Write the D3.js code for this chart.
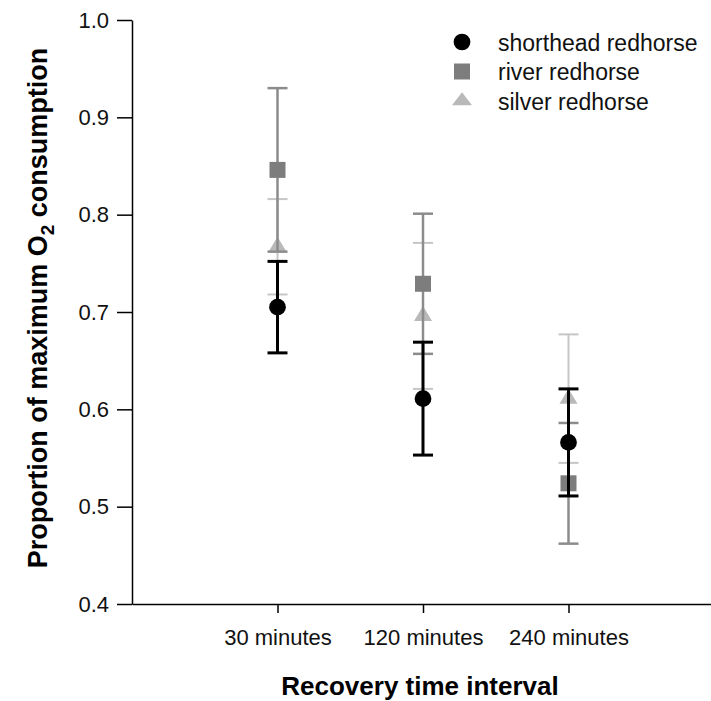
<!DOCTYPE html>
<html>
<head>
<meta charset="utf-8">
<script src="https://cdn.jsdelivr.net/npm/d3@7/dist/d3.min.js"></script>
<style>
  html, body { margin: 0; padding: 0; background: #fff; }
  svg { display: block; font-family: "Liberation Sans", Arial, sans-serif; }
</style>
</head>
<body>
<svg id="chart" width="711" height="701"></svg>
<script>
// Recovery intervals on the x axis
const categories = ["30 minutes", "120 minutes", "240 minutes"];

// Mean proportion of maximum O2 consumption per species, with error half-widths
const shortheadMean = [0.705, 0.611, 0.566];
const shortheadErr  = [0.047, 0.058, 0.055];
const riverMean     = [0.846, 0.729, 0.524];
const riverErr      = [0.084, 0.072, 0.062];
const silverMean    = [0.767, 0.696, 0.611];
const silverErr     = [0.049, 0.075, 0.066];

const yTicks = [0.4, 0.5, 0.6, 0.7, 0.8, 0.9, 1.0];

const series = [
  { name: "silver redhorse",    mean: silverMean,    err: silverErr,    shape: "triangle", fill: "#b9b9b9", bar: "#c6c6c6", bw: 2 },
  { name: "river redhorse",     mean: riverMean,     err: riverErr,     shape: "square",   fill: "#7d7d7d", bar: "#8c8c8c", bw: 2.5 },
  { name: "shorthead redhorse", mean: shortheadMean, err: shortheadErr, shape: "circle",   fill: "#000000", bar: "#000000", bw: 3 }
];

const svg = d3.select("#chart");

const x = d3.scaleLinear().domain([0, 4]).range([132, 714]);
const y = d3.scaleLinear().domain([0.4, 1.0]).range([604, 20]);

// Axes
const yAxis = svg.append("g")
  .attr("transform", "translate(132,0)")
  .call(d3.axisLeft(y).tickValues(yTicks).tickFormat(d3.format(".1f")).tickSize(15).tickSizeOuter(0).tickPadding(8));
const xAxis = svg.append("g")
  .attr("transform", "translate(0,604)")
  .call(d3.axisBottom(x).tickValues([1, 2, 3]).tickFormat(i => categories[i - 1]).tickSize(9).tickSizeOuter(0).tickPadding(16));

[yAxis, xAxis].forEach(g => {
  g.select(".domain").attr("stroke", "#000").attr("stroke-width", 1.5);
  g.selectAll(".tick line").attr("stroke", "#000").attr("stroke-width", 1.5);
  g.selectAll(".tick text").attr("fill", "#111").attr("font-size", 22)
    .attr("font-family", "'Liberation Sans', Arial, sans-serif");
});

// Axis titles
svg.append("text")
  .attr("x", 420).attr("y", 695)
  .attr("text-anchor", "middle")
  .attr("font-size", 26).attr("font-weight", "bold").attr("fill", "#000")
  .text("Recovery time interval");

const yTitle = svg.append("text")
  .attr("transform", "translate(47,308) rotate(-90)")
  .attr("text-anchor", "middle")
  .attr("font-size", 27).attr("font-weight", "bold").attr("fill", "#000");
yTitle.append("tspan").text("Proportion of maximum O");
yTitle.append("tspan").attr("font-size", 19).attr("dy", 7).text("2");
yTitle.append("tspan").attr("dy", -7).text(" consumption");

// Marker shapes
const trianglePath = (w, h) => `M0,${-h * 2 / 3}L${w / 2},${h / 3}L${-w / 2},${h / 3}Z`;
const markerPath = (shape, legend) =>
  shape === "circle" ? d3.symbol(d3.symbolCircle, 220)()
  : shape === "square" ? d3.symbol(d3.symbolSquare, 256)()
  : (legend ? trianglePath(20, 13) : trianglePath(18, 15));

// Error bars and markers, one species at a time
const capHalf = 10;
series.forEach(s => {
  const g = svg.append("g");
  s.mean.forEach((m, i) => {
    const cx = x(i + 1);
    const hi = y(m + s.err[i]), lo = y(m - s.err[i]);
    g.append("line").attr("x1", cx).attr("x2", cx).attr("y1", hi).attr("y2", lo)
      .attr("stroke", s.bar).attr("stroke-width", s.bw);
    [hi, lo].forEach(cy => g.append("line")
      .attr("x1", cx - capHalf).attr("x2", cx + capHalf).attr("y1", cy).attr("y2", cy)
      .attr("stroke", s.bar).attr("stroke-width", s.bw));
    g.append("path").attr("d", markerPath(s.shape, false))
      .attr("transform", `translate(${cx},${y(m)})`)
      .attr("fill", s.fill);
  });
});

// Legend
const legendOrder = [series[2], series[1], series[0]];
const legend = svg.append("g").attr("transform", "translate(462,42)");
legendOrder.forEach((s, i) => {
  const row = legend.append("g").attr("transform", `translate(0,${i * 29.5})`);
  row.append("path").attr("d", markerPath(s.shape, true)).attr("fill", s.fill);
  row.append("text").attr("x", 36).attr("y", 8.5)
    .attr("font-size", 23).attr("fill", "#111").text(s.name);
});
</script>
</body>
</html>
